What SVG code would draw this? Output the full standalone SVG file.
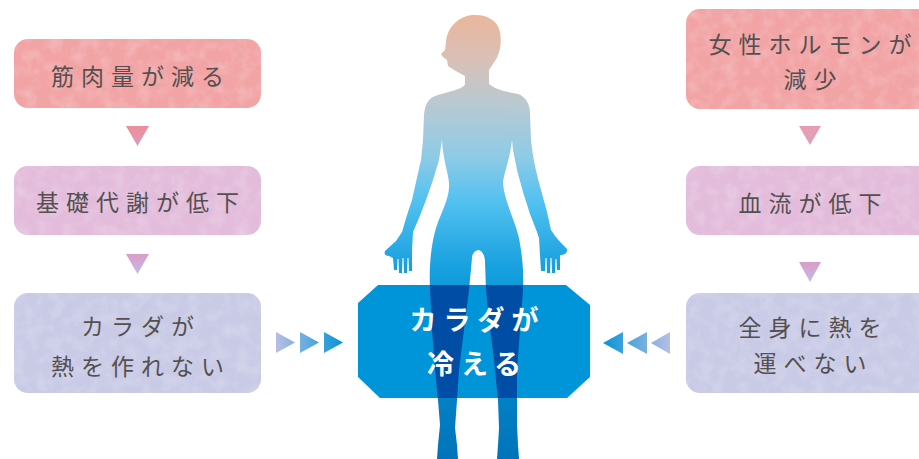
<svg xmlns="http://www.w3.org/2000/svg" xmlns:xlink="http://www.w3.org/1999/xlink" width="919" height="459" viewBox="0 0 919 459">
  <style>
    .label { font-family: "Noto Sans CJK JP", "Noto Sans", sans-serif; font-size: 23px; letter-spacing: 7px; fill: #545050; text-anchor: middle; }
    .center-label { font-family: "Noto Sans CJK JP", "Noto Sans", sans-serif; font-size: 27px; font-weight: bold; letter-spacing: 7px; fill: #ffffff; text-anchor: middle; }
    .box { filter: url(#paper); }
    .pink { fill: #f2a3a4; }
    .mauve { fill: #e3bcdb; }
    .lavender { fill: #c9cae6; }
  </style>
  <defs>
    <!-- soft paper grain on the boxes -->
    <filter id="paper" x="-5%" y="-5%" width="110%" height="110%">
      <feTurbulence type="fractalNoise" baseFrequency="0.08" numOctaves="3" seed="4" result="noise"/>
      <feColorMatrix in="noise" type="matrix" values="0 0 0 0 1  0 0 0 0 1  0 0 0 0 1  0.35 0 0 0 -0.14" result="grain"/>
      <feComposite in="grain" in2="SourceGraphic" operator="in" result="grainIn"/>
      <feMerge><feMergeNode in="SourceGraphic"/><feMergeNode in="grainIn"/></feMerge>
    </filter>
    <linearGradient id="bodyGrad" gradientUnits="userSpaceOnUse" x1="0" y1="15" x2="0" y2="459">
      <stop offset="0" stop-color="#eab69c"/>
      <stop offset="0.1" stop-color="#d9c0b6"/>
      <stop offset="0.2" stop-color="#b9c9d2"/>
      <stop offset="0.32" stop-color="#8ecbe6"/>
      <stop offset="0.42" stop-color="#52c1f0"/>
      <stop offset="0.56" stop-color="#1aa2e0"/>
      <stop offset="0.66" stop-color="#0892d2"/>
      <stop offset="1" stop-color="#0074bb"/>
    </linearGradient>
    <linearGradient id="downPink" x1="0" y1="0" x2="0" y2="1">
      <stop offset="0" stop-color="#ec8e9a"/>
      <stop offset="1" stop-color="#dc9cbb"/>
    </linearGradient>
    <linearGradient id="downMauve" x1="0" y1="0" x2="0" y2="1">
      <stop offset="0" stop-color="#d99cc9"/>
      <stop offset="1" stop-color="#c2bde2"/>
    </linearGradient>
    <linearGradient id="downPinkR" x1="0" y1="0" x2="0" y2="1">
      <stop offset="0" stop-color="#eb9caf"/>
      <stop offset="1" stop-color="#dca2c2"/>
    </linearGradient>
    <linearGradient id="toRight" gradientUnits="userSpaceOnUse" x1="276" y1="0" x2="343" y2="0">
      <stop offset="0" stop-color="#b6bfe4"/>
      <stop offset="1" stop-color="#0694d7"/>
    </linearGradient>
    <linearGradient id="toLeft" gradientUnits="userSpaceOnUse" x1="670" y1="0" x2="603" y2="0">
      <stop offset="0" stop-color="#b6bfe4"/>
      <stop offset="1" stop-color="#0694d7"/>
    </linearGradient>
    <!-- standing figure silhouette -->
    <path id="figure" d="M473,15 C486,14 498,20 500,32 C502,44 500,55 493,64 L489,70 L489,84
      C496,90 508,92 518,94 C526,97 530,104 530,114 L531,140 C533,160 537,175 541,190 L547,212 L551,230
      C556,238 562,244 567,249 C568,252 565,255 560,255
      L560,270 L557,270 L556.5,259 L555.5,259 L555,273 L552,273 L551.5,258 L550.5,258 L550,273 L547,273
      L546.5,258 L545.5,258 L545,271 L541,271 L540,255 L539,238 L537,232
      L530,214 L523,192 L517,170 L513,150 L512,140
      C510,160 504,172 503,183 C504,200 514,218 519,238 C522,255 524,270 523,290
      L520,330 L517,370 L517,400 L517,425 L518,445 L519,459 L497,459 L498,445 L499,428 L498,400
      L494,360 L489,320 L486,290 L485,262 C485,254 481,250 478.5,250 C476,250 472,253 472,258
      L469,290 L464,330 L459,370 L457,400 L455,428 L457,445 L458,459 L437,459 L438,445 L440,425
      L438,400 L435,370 L432,330 L430,290 C429,265 431,245 436,228 C442,210 450,198 449,183
      C448,172 443,160 442,140 L439,160 L433,180 L426,200 L419,218 L413,232
      L412,250 L412,271 L409,271 L408.5,258 L407.5,258 L407,273 L404,273 L403.5,258 L402.5,258 L402,273
      L399,273 L398.5,259 L397.5,259 L397,270 L394,270 L393,258 L389,256
      C385,256 383,253 386,250 L396,241 L402,232 L407,215 L412,200 L416,182 L421,160 L423,140 L424,115
      C425,102 430,97 438,95 L452,91 C460,89 465,86 465,84 L465,76 C458,72 452,69 448,66
      L447,60 L443,57 L441,54 L445,50 L446,42 C447,28 458,16 473,15 Z"/>
    <path id="coldShape" d="M378,285 L566,285 L590,305 L590,377 L567,398 L380,398 L358,377 L358,303 Z"/>
    <clipPath id="coldClip"><use xlink:href="#coldShape"/></clipPath>
  </defs>

  <rect width="919" height="459" fill="#ffffff"/>

  <!-- left column -->
  <g id="node-muscle">
    <rect class="box pink" x="14" y="39" width="247" height="69" rx="14"/>
    <text class="label" x="141" y="85">筋肉量が減る</text>
  </g>
  <g id="node-metabolism">
    <rect class="box mauve" x="14" y="166" width="247" height="69" rx="14"/>
    <text class="label" x="141" y="211">基礎代謝が低下</text>
  </g>
  <g id="node-no-heat">
    <rect class="box lavender" x="14" y="293" width="247" height="100" rx="14"/>
    <text class="label" x="141" y="335">カラダが</text>
    <text class="label" x="141" y="375">熱を作れない</text>
  </g>

  <!-- right column -->
  <g id="node-hormone">
    <rect class="box pink" x="686" y="9" width="248" height="100" rx="14"/>
    <text class="label" x="813.5" y="53">女性ホルモンが</text>
    <text class="label" x="813.5" y="88">減少</text>
  </g>
  <g id="node-blood">
    <rect class="box mauve" x="686" y="166" width="248" height="69" rx="14"/>
    <text class="label" x="813.5" y="212">血流が低下</text>
  </g>
  <g id="node-transport">
    <rect class="box lavender" x="686" y="293" width="248" height="100" rx="14"/>
    <text class="label" x="813.5" y="336">全身に熱を</text>
    <text class="label" x="813.5" y="372">運べない</text>
  </g>

  <!-- center: figure with the result box -->
  <g id="node-cold">
    <use xlink:href="#figure" fill="url(#bodyGrad)"/>
    <use xlink:href="#coldShape" fill="#0095d9"/>
    <use xlink:href="#figure" fill="#004da6" clip-path="url(#coldClip)"/>
    <text class="center-label" x="477.5" y="330">カラダが</text>
    <text class="center-label" x="477.5" y="374">冷える</text>
  </g>

  <!-- connectors -->
  <g id="connectors">
    <polygon points="126,126 149,126 137.5,146" fill="url(#downPink)"/>
    <polygon points="126,254 149,254 137.5,274" fill="url(#downMauve)"/>
    <polygon points="799,126 821,126 810,145" fill="url(#downPinkR)"/>
    <polygon points="799,262 821,262 810,282" fill="url(#downMauve)"/>
    <polygon points="276,332 295,342.5 276,353" fill="url(#toRight)"/>
    <polygon points="300,332 319,342.5 300,353" fill="url(#toRight)"/>
    <polygon points="324,332 343,342.5 324,353" fill="url(#toRight)"/>
    <polygon points="623,332 603,343 623,354" fill="url(#toLeft)"/>
    <polygon points="647,332 627,343 647,354" fill="url(#toLeft)"/>
    <polygon points="670,332 651,343 670,354" fill="url(#toLeft)"/>
  </g>
</svg>
